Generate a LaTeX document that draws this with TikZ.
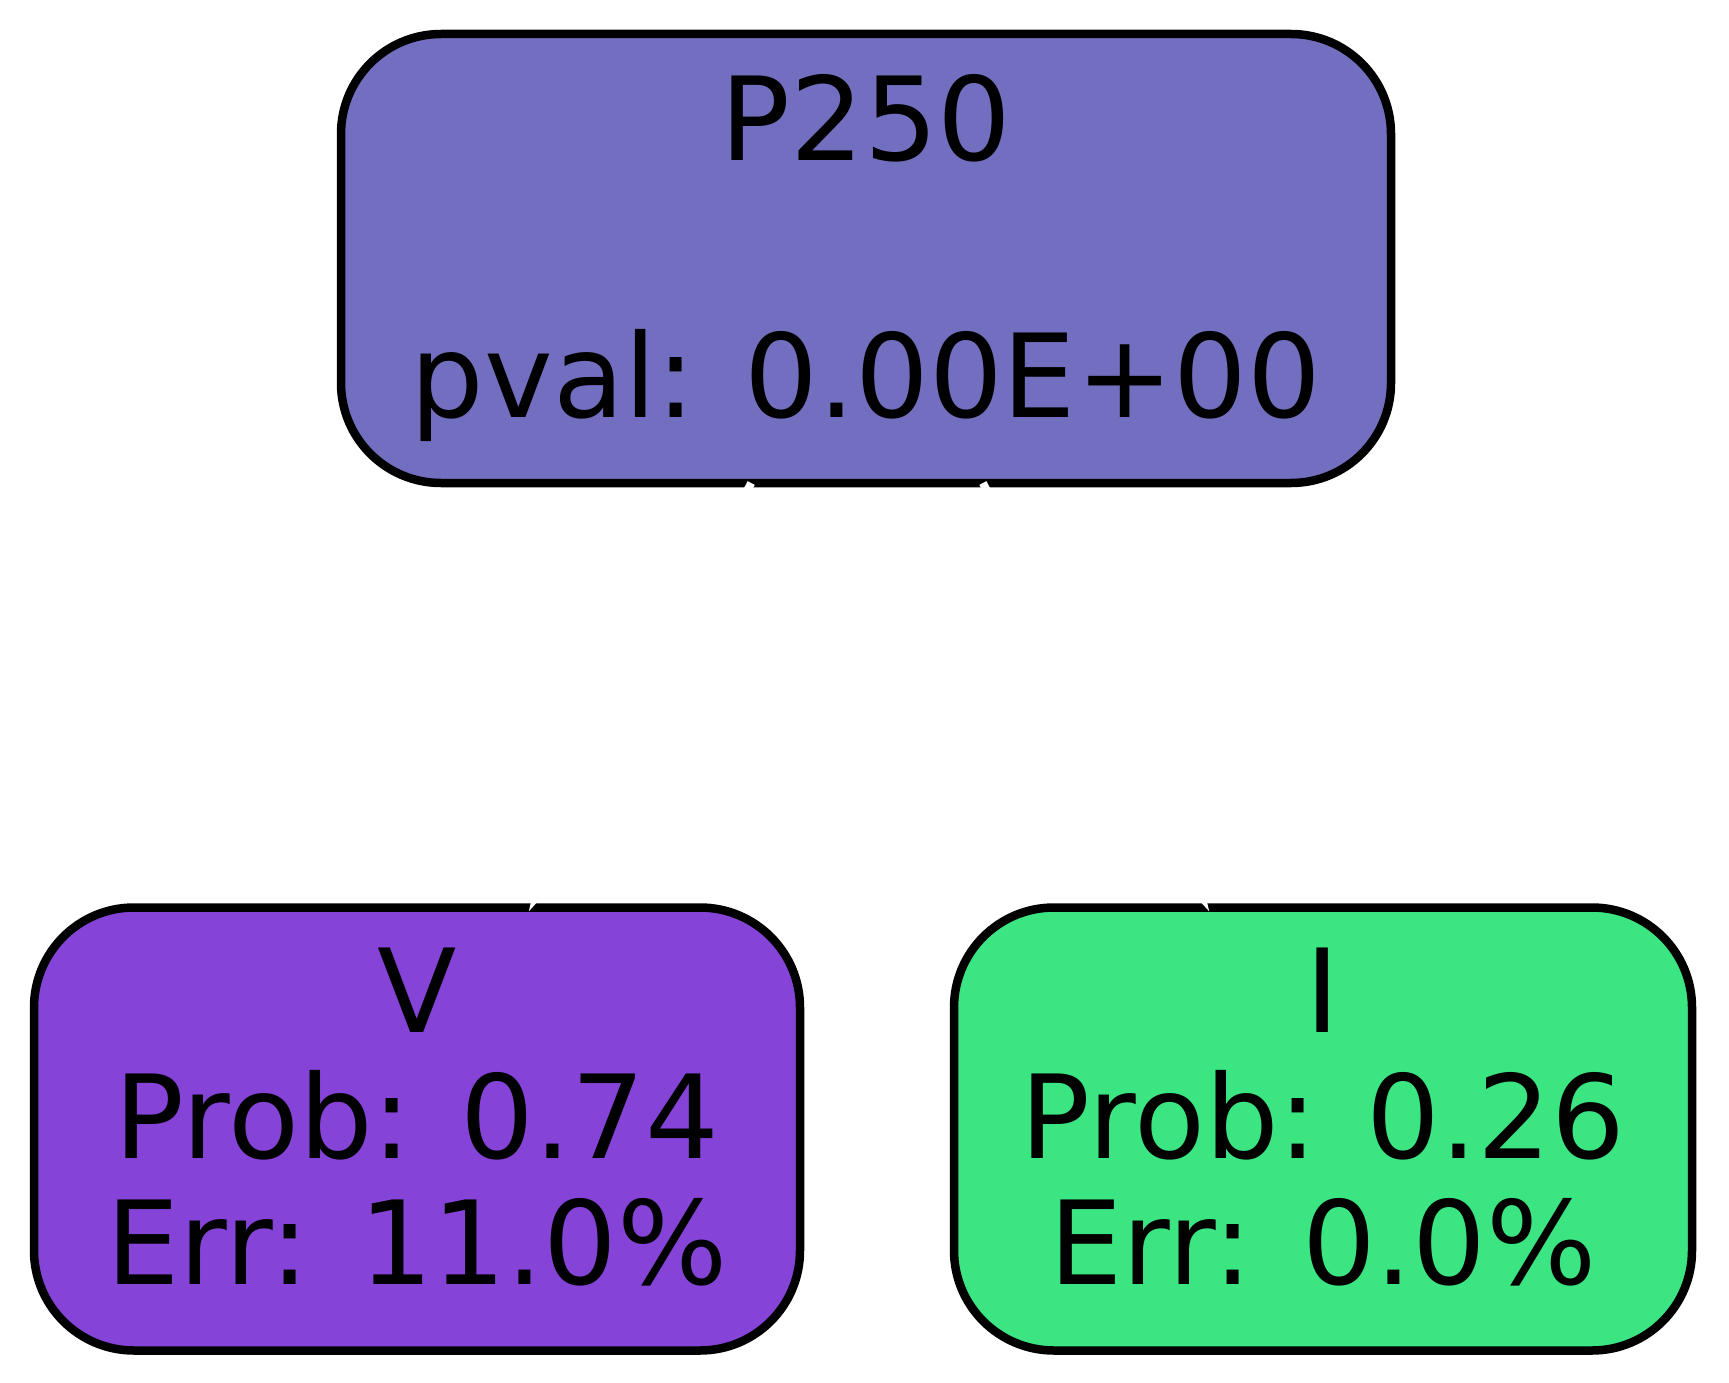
\documentclass[tikz,border=0pt]{standalone}
\usepackage{fontspec}
\setmainfont{DejaVu Sans}
\usetikzlibrary{arrows.meta}
\definecolor{pcol}{RGB}{115,111,192}
\definecolor{vcol}{RGB}{133,67,215}
\definecolor{icol}{RGB}{59,229,130}
\begin{document}
\begin{tikzpicture}[x=1pt,y=-1pt,
  box/.style={draw=black, line width=8.5pt, rounded corners=100pt, outer sep=0pt,
    inner sep=0pt, align=center, font=\fontsize{116}{126}\selectfont},
  edge/.style={draw=white, line width=8pt, shorten >=-5pt, -{Latex[length=80pt,width=60pt]}}]
\useasboundingbox (0,0) rectangle (1729,1383);
\node[box, fill=pcol, minimum width=1050pt, minimum height=449pt] (p) at (866,258.5)
  {P250\\[131pt]pval: 0.00E+00};
\node[box, fill=vcol, minimum width=766pt, minimum height=443pt] (v) at (417,1129)
  {V\\Prob: 0.74\\Err: 11.0\%\rule[-25pt]{0pt}{25pt}};
\node[box, fill=icol, minimum width=738pt, minimum height=443pt] (i) at (1323,1129)
  {I\\Prob: 0.26\\Err: 0.0\%\rule[-25pt]{0pt}{25pt}};
\draw[edge] (p) -- (v);
\draw[edge] (p) -- (i);
\end{tikzpicture}
\end{document}
